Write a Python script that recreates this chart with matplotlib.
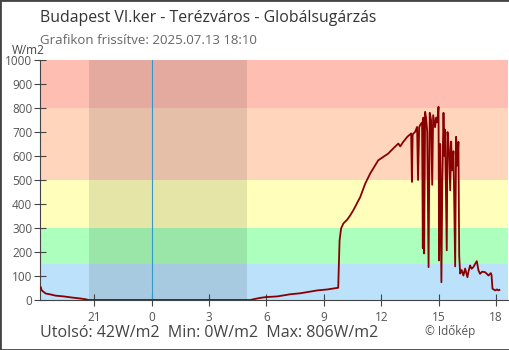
import matplotlib
matplotlib.use("Agg")
import matplotlib.pyplot as plt
from matplotlib.patches import Rectangle

plt.rcParams['font.family'] = ['Open Sans', 'DejaVu Sans']

# hours relative to midnight (negative = previous evening)
hours = [-5.79, -5.74, -5.53, -5.27, -5.01, -4.59, -4.23, -3.70, -3.44, -3.29,
         0.0, 5.16, 5.43, 5.69, 5.95, 6.57, 7.25, 7.77, 8.29, 8.66, 9.18, 9.75,
         9.82, 9.90, 10.02, 10.22, 10.38, 10.54, 10.90, 11.16, 11.42, 11.58,
         11.84, 12.10, 12.36, 12.62, 12.89, 12.99, 13.15, 13.36, 13.56, 13.60,
         13.64, 13.77, 13.87, 13.92, 13.98, 14.03, 14.13, 14.17, 14.20, 14.24,
         14.29, 14.34, 14.40, 14.47, 14.53, 14.60, 14.66, 14.71, 14.81, 14.87,
         14.92, 14.99, 15.02, 15.08, 15.14, 15.19, 15.25, 15.30, 15.33, 15.42,
         15.46, 15.54, 15.60, 15.65, 15.70, 15.77, 15.86, 15.91, 15.96, 16.03,
         16.07, 16.12, 16.20, 16.29, 16.38, 16.50, 16.56, 16.64, 16.72, 16.81,
         16.90, 16.99, 17.08, 17.16, 17.27, 17.42, 17.53, 17.60, 17.72, 17.76,
         17.81, 17.95, 18.05, 18.12, 18.17]
radiation = [53, 40, 27, 23, 18, 15, 11, 6, 3, 0,
             0, 0, 5, 9, 12, 15, 24, 28, 35, 40, 44, 51,
             248, 298, 319, 335, 353, 374, 429, 485, 527, 548,
             582, 596, 610, 631, 652, 640, 659, 680, 694, 492,
             690, 701, 721, 500, 720, 729, 740, 215, 760, 194,
             784, 760, 700, 137, 780, 750, 480, 770, 720, 760,
             740, 805, 165, 650, 74, 500, 780, 600, 710, 207,
             700, 620, 457, 660, 540, 620, 140, 680, 560, 659,
             186, 110, 125, 102, 131, 95, 120, 144, 130, 137,
             150, 162, 123, 109, 118, 116, 108, 102, 112, 104,
             47, 40, 44, 40, 42]

bands = [(0, 150, '#bbe1fb'), (150, 300, '#acffbc'), (300, 500, '#ffffbb'),
         (500, 800, '#ffd5bc'), (800, 1000, '#ffbeb2')]
night = (-3.29, 5.0)
xticks = [-3, 0, 3, 6, 9, 12, 15, 18]
xlabels = ['21', '0', '3', '6', '9', '12', '15', '18']
yticks = list(range(0, 1001, 100))

fig = plt.figure(figsize=(5.1, 3.5), dpi=100)
ax = fig.add_axes([40/510, 50/350, 468/510, 240/350])
ax.set_xlim(-5.83, 18.62)
ax.set_ylim(0, 1000)

for lo, hi, c in bands:
    ax.axhspan(lo, hi, color=c, lw=0, zorder=0)
ax.axvspan(night[0], night[1], color='black', alpha=0.1, lw=0, zorder=1)
ax.axvline(0, color='#3399cc', lw=0.8, zorder=2)

ax.plot(hours, radiation, color='#880000', lw=1.3, zorder=3)

ax.set_xticks(xticks)
ax.set_xticklabels(xlabels)
ax.set_yticks(yticks)
for s in ['top', 'right']:
    ax.spines[s].set_visible(False)
for s in ['left', 'bottom']:
    ax.spines[s].set_color('#444444')
ax.tick_params(direction='inout', length=9, color='#444444', labelcolor='#555555',
               labelsize=8.5)
ax.tick_params(axis='y', pad=1)

fig.text(40/510, 1 - 18/350, 'Budapest VI.ker - Terézváros - Globálsugárzás',
         fontsize=11.4, color='#333333', va='center')
fig.text(40/510, 1 - 41/350, 'Grafikon frissítve: 2025.07.13 18:10',
         fontsize=9.5, color='#666666', va='center')
fig.text(12/510, 1 - 50/350, 'W/m2', fontsize=8.5, color='#444444', va='center')
fig.text(40/510, 1 - 333/350, 'Utolsó: 42W/m2  Min: 0W/m2  Max: 806W/m2',
         fontsize=11.5, color='#444444', va='center')
fig.text(425/510, 1 - 331/350, '© Időkép', fontsize=8.5, color='#555555', va='center')

fig.patches.append(Rectangle((0, 0), 1, 1, transform=fig.transFigure, fill=False,
                             edgecolor='#444444', lw=2))

fig.savefig('out.png', dpi=100)
